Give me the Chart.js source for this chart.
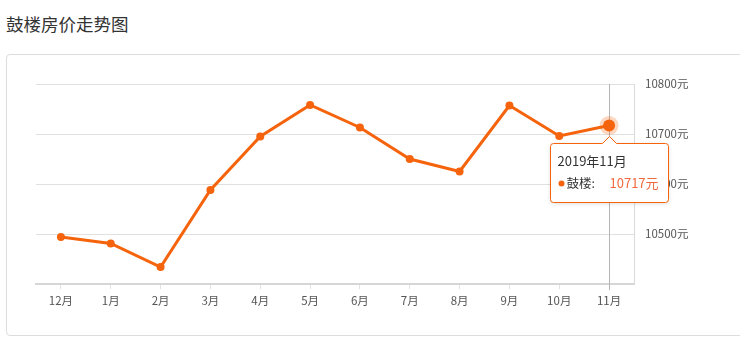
<!DOCTYPE html>
<html>
<head>
<meta charset="utf-8">
<script src="https://cdn.jsdelivr.net/npm/chart.js@4"></script>
<style>
  html,body{margin:0;padding:0;background:#fff;width:740px;height:343px;overflow:hidden;}
  #title{position:absolute;left:6px;top:11px;font-family:'Noto Sans CJK SC',sans-serif;font-size:17.5px;color:#333;line-height:26px;}
  #card{position:absolute;left:6px;top:54px;width:750px;height:282px;border:1px solid #ddd;border-radius:4px;box-sizing:border-box;}
  #wrap{position:absolute;left:0;top:0;width:740px;height:343px;}
</style>
</head>
<body>
<div id="title">鼓楼房价走势图</div>
<div id="card"></div>
<div id="wrap"><canvas id="c" width="740" height="343"></canvas></div>
<script>
const categories = ['12月','1月','2月','3月','4月','5月','6月','7月','8月','9月','10月','11月'];
const prices = [10494, 10481, 10434, 10588, 10695, 10758, 10713, 10650, 10625, 10757, 10696, 10717];
const yTicks = [10400, 10500, 10600, 10700, 10800];
const seriesName = '鼓楼';
const tooltipTitle = '2019年11月';
const hoverIndex = 11;

const ORANGE = '#f5640c';
Chart.defaults.font.family = "'Noto Sans CJK SC', sans-serif";

const hoverPlugin = {
  id: 'hoverPlugin',
  beforeDatasetsDraw(chart) {
    const ctx = chart.ctx;
    const p = chart.getDatasetMeta(0).data[hoverIndex];
    const a = chart.chartArea;
    ctx.save();
    ctx.strokeStyle = '#b5b5b5';
    ctx.lineWidth = 1;
    ctx.beginPath();
    ctx.moveTo(Math.round(p.x) + 0.5, a.top);
    ctx.lineTo(Math.round(p.x) + 0.5, a.bottom + 6);
    ctx.stroke();
    ctx.restore();
  },
  afterDraw(chart) {
    const ctx = chart.ctx;
    const p = chart.getDatasetMeta(0).data[hoverIndex];
    ctx.save();
    ctx.fillStyle = 'rgba(245,100,12,0.25)';
    ctx.beginPath(); ctx.arc(p.x, p.y, 9.5, 0, Math.PI * 2); ctx.fill();
    ctx.fillStyle = ORANGE;
    ctx.beginPath(); ctx.arc(p.x, p.y, 6, 0, Math.PI * 2); ctx.fill();

    const w = 118, h = 59;
    const bx = Math.round(p.x - 59) + 0.5, by = Math.round(p.y + 17) + 0.5;
    const cx = Math.round(p.x) + 0.5, apex = Math.round(p.y + 10) + 0.5;
    const r = 3;
    ctx.shadowColor = 'rgba(0,0,0,0.15)';
    ctx.shadowBlur = 4;
    ctx.shadowOffsetY = 1;
    ctx.beginPath();
    ctx.moveTo(bx + r, by);
    ctx.lineTo(cx - 7, by);
    ctx.lineTo(cx, apex);
    ctx.lineTo(cx + 7, by);
    ctx.lineTo(bx + w - r, by);
    ctx.arcTo(bx + w, by, bx + w, by + r, r);
    ctx.lineTo(bx + w, by + h - r);
    ctx.arcTo(bx + w, by + h, bx + w - r, by + h, r);
    ctx.lineTo(bx + r, by + h);
    ctx.arcTo(bx, by + h, bx, by + h - r, r);
    ctx.lineTo(bx, by + r);
    ctx.arcTo(bx, by, bx + r, by, r);
    ctx.closePath();
    ctx.fillStyle = '#fff';
    ctx.fill();
    ctx.shadowColor = 'transparent';
    ctx.strokeStyle = ORANGE;
    ctx.lineWidth = 1;
    ctx.stroke();

    ctx.textBaseline = 'middle';
    ctx.textAlign = 'left';
    ctx.font = "13px 'Noto Sans CJK SC', sans-serif";
    ctx.fillStyle = '#333';
    ctx.fillText(tooltipTitle, bx + 7, by + 18);
    ctx.fillStyle = ORANGE;
    ctx.beginPath(); ctx.arc(bx + 11, by + 40, 3, 0, Math.PI * 2); ctx.fill();
    ctx.fillStyle = '#333';
    ctx.font = "12.5px 'Noto Sans CJK SC', sans-serif";
    ctx.fillText(seriesName + ':', bx + 16, by + 40);
    ctx.fillStyle = '#f06a3e';
    ctx.font = "13px 'Noto Sans CJK SC', sans-serif";
    ctx.fillText(prices[hoverIndex] + '元', bx + 59, by + 40);
    ctx.restore();
  }
};

new Chart(document.getElementById('c'), {
  type: 'line',
  data: {
    labels: categories,
    datasets: [{
      label: seriesName,
      data: prices,
      borderColor: ORANGE,
      backgroundColor: ORANGE,
      borderWidth: 3,
      pointRadius: 4,
      pointBackgroundColor: ORANGE,
      pointBorderWidth: 0,
      tension: 0,
      fill: false
    }]
  },
  options: {
    responsive: false,
    animation: false,
    events: [],
    layout: { padding: { left: 36, top: 84, right: 36, bottom: 29 } },
    plugins: { legend: { display: false }, tooltip: { enabled: false } },
    scales: {
      x: {
        offset: true,
        grid: { drawOnChartArea: false, drawTicks: true, tickLength: 5, color: '#e2e2e2', offset: false },
        border: { color: '#d6d6d6', width: 2 },
        ticks: { color: '#555', font: { size: 11.5 }, padding: 5, maxRotation: 0, autoSkip: false },
        afterFit(s) { s.height = 30; }
      },
      y: {
        position: 'right',
        min: 10400,
        max: 10800,
        afterBuildTicks(s) { s.ticks = yTicks.map(v => ({ value: v })); },
        grid: { color: '#e0e0e0', drawTicks: false },
        border: { color: '#dadada', width: 1 },
        ticks: {
          color: '#555', font: { size: 11.5 }, padding: 11,
          callback(v) { return v === 10400 ? '' : v + '元'; }
        },
        afterFit(s) { s.width = 70; }
      }
    }
  },
  plugins: [hoverPlugin]
});
</script>
</body>
</html>
